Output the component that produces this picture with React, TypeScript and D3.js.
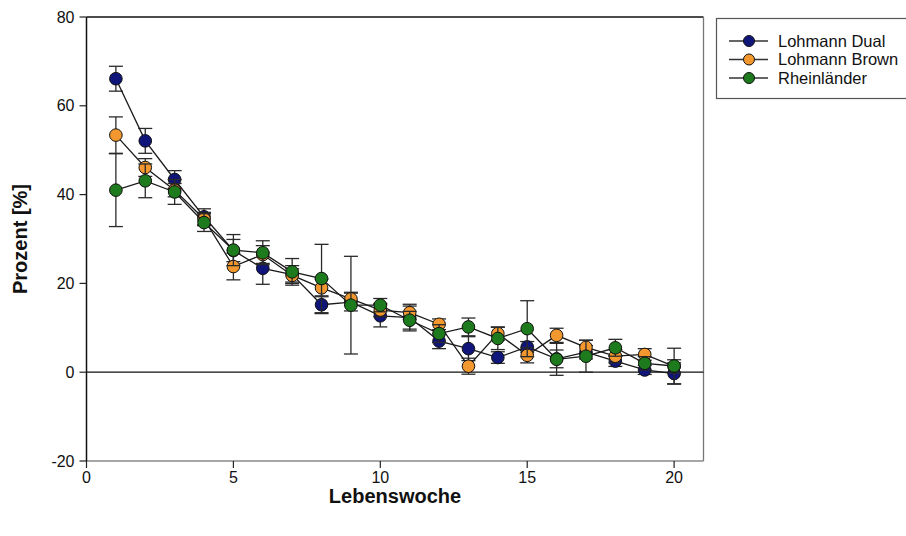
import React from "react";
import * as d3 from "d3";

// Lebenswoche (week of life)
const weeks = [1, 2, 3, 4, 5, 6, 7, 8, 9, 10, 11, 12, 13, 14, 15, 16, 17, 18, 19, 20];

const dualMean = [66.1, 52.1, 43.4, 35, 27.4, 23.4, 22, 15.2, 15.8, 12.7, 12.3, 7, 5.3, 3.3, 5.7, 3, 4.5, 2.5, 0.5, -0.3];
const dualErr = [2.8, 2.8, 2, 1.8, 2.5, 3.6, 2, 2, 2, 2.5, 3, 1.7, 2.7, 1.3, 1.2, 2, 1.5, 1.2, 1, 2.4];

const brownMean = [53.4, 46.1, 41, 34.5, 23.8, 26.5, 21.8, 19, 16.5, 14, 13.4, 10.8, 1.35, 8.7, 3.8, 8.3, 5.6, 3.6, 4, 1.3];
const brownErr = [4.1, 2, 1.5, 1.5, 3, 2, 1.5, 2, 1.5, 1.5, 1.5, 1.2, 1.8, 1.5, 1.7, 1.6, 1.6, 1.5, 1.3, 1.5];

const rheinMean = [41, 43.1, 40.6, 33.7, 27.5, 26.9, 22.6, 21.1, 15.1, 15.1, 11.7, 8.7, 10.2, 7.6, 9.8, 2.9, 3.6, 5.5, 2, 1.4];
const rheinErr = [8.2, 3.8, 2.8, 2, 3.5, 2.7, 3, 7.7, 11, 1.5, 2, 2, 2, 2.5, 6.3, 3.6, 3.6, 1.9, 1.5, 4];

const seriesNames = ["Lohmann Dual", "Lohmann Brown", "Rheinländer"];
const seriesColors = ["#10157a", "#f2982e", "#1d7a1d"];

const xTicks = [0, 5, 10, 15, 20];
const yTicks = [-20, 0, 20, 40, 60, 80];

const W = 906;
const H = 536;
const plot = { left: 86.5, right: 703.5, top: 17, bottom: 461 };
const FONT = "'Liberation Sans', Arial, sans-serif";

export default function App() {
  const x = d3.scaleLinear().domain([0, 21]).range([plot.left, plot.right]);
  const y = d3.scaleLinear().domain([-20, 80]).range([plot.bottom, plot.top]);

  const series = [
    { name: seriesNames[0], color: seriesColors[0], mean: dualMean, err: dualErr },
    { name: seriesNames[1], color: seriesColors[1], mean: brownMean, err: brownErr },
    { name: seriesNames[2], color: seriesColors[2], mean: rheinMean, err: rheinErr },
  ];

  const line = d3
    .line<number>()
    .x((_, i) => x(weeks[i]))
    .y((d) => y(d));

  const capHalf = 7;
  const r = 6.3;

  return (
    <svg
      width={W}
      height={H}
      style={{ position: "absolute", left: 0, top: 0, background: "#fff" }}
      fontFamily={FONT}
    >
      <rect x={0} y={0} width={W} height={H} fill="#fff" />

      {/* frame */}
      <line x1={plot.left} x2={plot.right} y1={plot.top} y2={plot.top} stroke="#111" strokeWidth={1.3} />
      <line x1={plot.right} x2={plot.right} y1={plot.top} y2={plot.bottom} stroke="#777" strokeWidth={1.3} />
      <line x1={plot.left} x2={plot.right} y1={plot.bottom} y2={plot.bottom} stroke="#888" strokeWidth={1.3} />
      <line x1={plot.left} x2={plot.left} y1={plot.top} y2={plot.bottom} stroke="#111" strokeWidth={1.5} />

      {/* zero reference line */}
      <line x1={plot.left} x2={plot.right} y1={y(0)} y2={y(0)} stroke="#111" strokeWidth={1.3} />

      {/* y axis ticks */}
      {yTicks.map((t) => (
        <g key={`y${t}`}>
          <line x1={plot.left - 7} x2={plot.left} y1={y(t)} y2={y(t)} stroke="#222" strokeWidth={1.2} />
          <text x={plot.left - 12} y={y(t)} dy="0.35em" textAnchor="end" fontSize={16} fill="#111">
            {t}
          </text>
        </g>
      ))}

      {/* x axis ticks */}
      {xTicks.map((t) => (
        <g key={`x${t}`}>
          <line x1={x(t)} x2={x(t)} y1={plot.bottom} y2={plot.bottom + 7} stroke="#222" strokeWidth={1.2} />
          <text x={x(t)} y={plot.bottom + 22} textAnchor="middle" fontSize={16} fill="#111">
            {t}
          </text>
        </g>
      ))}

      {/* axis titles */}
      <text
        x={(plot.left + plot.right) / 2}
        y={503}
        textAnchor="middle"
        fontSize={20}
        fontWeight="bold"
        fill="#111"
      >
        Lebenswoche
      </text>
      <text
        transform={`translate(27, ${(plot.top + plot.bottom) / 2}) rotate(-90)`}
        textAnchor="middle"
        fontSize={20}
        fontWeight="bold"
        fill="#111"
      >
        Prozent [%]
      </text>

      {/* series: error bars, connecting lines, markers */}
      {series.map((s) => (
        <g key={s.name}>
          {s.mean.map((m, i) => {
            const cx = x(weeks[i]);
            const lo = y(m - s.err[i]);
            const hi = y(m + s.err[i]);
            return (
              <g key={i} stroke="#2a2a2a" strokeWidth={1.3}>
                <line x1={cx} x2={cx} y1={lo} y2={hi} />
                <line x1={cx - capHalf} x2={cx + capHalf} y1={hi} y2={hi} />
                <line x1={cx - capHalf} x2={cx + capHalf} y1={lo} y2={lo} />
              </g>
            );
          })}
          <path d={line(s.mean) || ""} fill="none" stroke="#1a1a1a" strokeWidth={1.3} />
          {s.mean.map((m, i) => (
            <circle key={i} cx={x(weeks[i])} cy={y(m)} r={r} fill={s.color} stroke="#111" strokeWidth={1} />
          ))}
        </g>
      ))}

      {/* legend */}
      <rect x={716.5} y={18.5} width={220} height={80} fill="#fff" stroke="#555" strokeWidth={1.2} />
      {series.map((s, i) => {
        const ly = 41 + i * 18.5;
        return (
          <g key={`lg${i}`}>
            <line x1={729} x2={768} y1={ly} y2={ly} stroke="#333" strokeWidth={1.3} />
            <circle cx={749} cy={ly} r={5.5} fill={s.color} stroke="#111" strokeWidth={1} />
            <text x={778} y={ly} dy="0.36em" fontSize={16.5} fill="#111">
              {s.name}
            </text>
          </g>
        );
      })}
    </svg>
  );
}
